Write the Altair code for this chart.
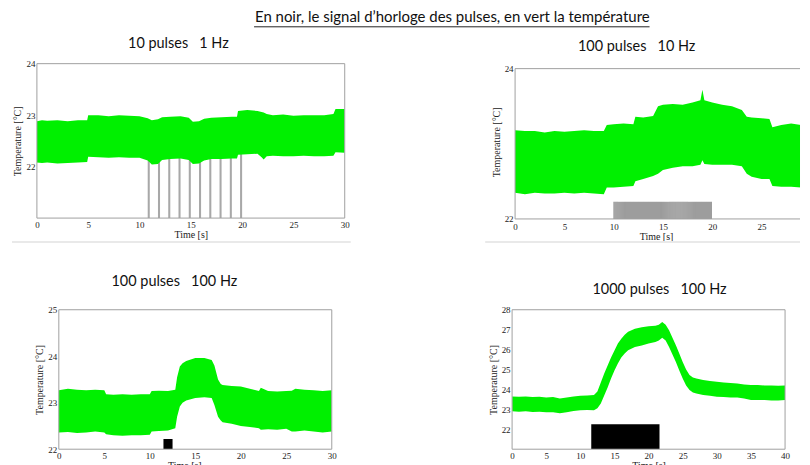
import altair as alt
import pandas as pd

GREEN = "#00f000"
SERIF = "Liberation Serif"
SANS = "Lato"
TXT = "#222222"
FRAME = "#a0a0a0"

MAIN_TITLE = "En noir, le signal d\u2019horloge des pulses, en vert la température"
TITLES = ["10 pulses\u00a0\u00a0\u00a01 Hz", "100 pulses\u00a0\u00a0\u00a010 Hz",
          "100 pulses\u00a0\u00a0\u00a0100 Hz", "1000 pulses\u00a0\u00a0\u00a0100 Hz"]

# ---------------- Panel 1 : 10 pulses, 1 Hz ----------------
p1_t = [0, 0.5, 1, 2, 3, 4, 4.9, 5.0, 6, 7, 8, 9, 10, 10.8, 11.2, 11.8, 12.2, 13, 14, 14.8,
        15.2, 15.8, 16.3, 17, 18, 19, 19.5, 19.6, 20.5, 21.5, 21.9, 22.1, 22.4, 23, 24, 25,
        26, 27, 28, 28.9, 29.1, 30]
p1_hi = [22.88, 22.9, 22.89, 22.9, 22.88, 22.9, 22.9, 23.0, 23.0, 22.98, 23.0, 22.99, 22.98,
         22.94, 22.9, 22.92, 22.96, 22.97, 22.98, 22.95, 22.87, 22.88, 22.93, 22.95, 22.96,
         22.97, 22.97, 23.08, 23.1, 23.08, 23.06, 23.05, 23.02, 23.0, 23.01, 22.99, 23.0, 23.0,
         23.0, 23.02, 23.12, 23.12]
p1_lo = [22.08, 22.07, 22.08, 22.06, 22.07, 22.08, 22.09, 22.19, 22.18, 22.17, 22.18, 22.17,
         22.17, 22.12, 22.04, 22.05, 22.13, 22.15, 22.16, 22.13, 22.05, 22.06, 22.12, 22.15,
         22.15, 22.16, 22.16, 22.23, 22.24, 22.25, 22.18, 22.14, 22.2, 22.21, 22.2, 22.2,
         22.21, 22.2, 22.2, 22.21, 22.28, 22.27]
p1_pulse_t = [10.8, 11.8, 12.8, 13.8, 14.8, 15.8, 16.8, 17.8, 18.8, 19.8]
p1_pulse_w = 0.2
p1_pulse_y = [21.0, 22.3]

# ---------------- Panel 2 : 100 pulses, 10 Hz ----------------
p2_t = [0, 1, 2, 3, 4, 5, 6, 7, 8, 9, 9.3, 10, 11, 12, 12.2, 13, 14, 14.5, 15, 16, 17, 18,
        18.8, 19, 19.2, 20, 21, 22, 23, 23.5, 24, 25, 25.8, 26.1, 27, 28, 29, 30]
p2_hi = [23.18, 23.17, 23.17, 23.15, 23.17, 23.16, 23.17, 23.18, 23.17, 23.17, 23.25, 23.26,
         23.27, 23.26, 23.36, 23.35, 23.37, 23.5, 23.52, 23.53, 23.52, 23.55, 23.58, 23.72,
         23.58, 23.55, 23.52, 23.5, 23.45, 23.36, 23.35, 23.34, 23.33, 23.22, 23.25, 23.27,
         23.25, 23.27]
p2_lo = [22.35, 22.33, 22.35, 22.34, 22.34, 22.35, 22.34, 22.35, 22.34, 22.33, 22.42, 22.42,
         22.43, 22.44, 22.5, 22.53, 22.57, 22.6, 22.65, 22.68, 22.7, 22.7, 22.72, 22.78, 22.73,
         22.72, 22.72, 22.72, 22.7, 22.6, 22.56, 22.53, 22.53, 22.44, 22.43, 22.43, 22.42,
         22.44]
p2_pulse_start, p2_pulse_count, p2_pulse_hz = 10.0, 100, 10
p2_pulse_y = [22.0, 22.23]

# ---------------- Panel 3 : 100 pulses, 100 Hz ----------------
p3_t = [0, 1, 2, 3, 4, 5, 5.2, 6, 7, 8, 9, 10, 10.2, 11, 12, 12.8, 13.0, 13.3, 13.6, 14, 15,
        16, 16.8, 17.1, 17.5, 17.8, 18, 19, 20, 21, 22, 22.2, 23, 24, 25, 25.6, 26, 27, 28,
        29, 30]
p3_hi = [23.27, 23.3, 23.28, 23.27, 23.28, 23.27, 23.18, 23.17, 23.18, 23.17, 23.18, 23.18,
         23.25, 23.26, 23.25, 23.28, 23.55, 23.78, 23.85, 23.9, 23.96, 23.96, 23.92, 23.8,
         23.5, 23.4, 23.38, 23.36, 23.35, 23.3, 23.25, 23.32, 23.25, 23.24, 23.25, 23.26,
         23.3, 23.28, 23.27, 23.25, 23.27]
p3_lo = [22.36, 22.37, 22.35, 22.36, 22.38, 22.36, 22.32, 22.3, 22.29, 22.3, 22.3, 22.31,
         22.38, 22.39, 22.4, 22.45, 22.7, 22.92, 23.0, 23.05, 23.1, 23.12, 23.1, 22.95, 22.7,
         22.62, 22.58, 22.55, 22.5, 22.48, 22.45, 22.42, 22.43, 22.42, 22.44, 22.38, 22.38,
         22.4, 22.38, 22.36, 22.38]
p3_block = [11.5, 12.5]
p3_pulse_y = [22.0, 22.22]

# ---------------- Panel 4 : 1000 pulses, 100 Hz ----------------
p4_t = [0, 1, 2, 3, 4, 5, 6, 7, 8, 9, 10, 11, 12, 12.5, 13, 13.5, 14, 14.5, 15, 15.5, 16,
        16.5, 17, 18, 19, 20, 21, 21.5, 22, 22.5, 23, 23.5, 24, 24.5, 25, 25.5, 26, 26.5, 27,
        28, 29, 30, 31, 32, 33, 34, 35, 36, 37, 38, 39, 40]
p4_hi = [23.65, 23.63, 23.65, 23.62, 23.63, 23.6, 23.62, 23.55, 23.6, 23.65, 23.68, 23.7,
         23.72, 23.9, 24.35, 24.8, 25.2, 25.6, 25.95, 26.3, 26.55, 26.75, 26.9, 27.05, 27.12,
         27.17, 27.2, 27.25, 27.38, 27.25, 26.97, 26.6, 26.22, 25.8, 25.38, 25.0, 24.72, 24.6,
         24.55, 24.47, 24.42, 24.38, 24.35, 24.32, 24.3, 24.25, 24.22, 24.22, 24.2, 24.2,
         24.18, 24.2]
p4_lo = [22.9, 22.88, 22.9, 22.87, 22.88, 22.85, 22.85, 22.8, 22.85, 22.92, 22.95, 22.97,
         22.95, 23.05, 23.3, 23.7, 24.1, 24.55, 24.95, 25.3, 25.6, 25.8, 25.97, 26.13, 26.2,
         26.3, 26.38, 26.45, 26.6, 26.45, 26.13, 25.75, 25.38, 24.95, 24.55, 24.2, 23.97,
         23.85, 23.8, 23.72, 23.68, 23.63, 23.62, 23.6, 23.6, 23.55, 23.47, 23.47, 23.47,
         23.45, 23.45, 23.47]
p4_block = [11.6, 21.6]
p4_pulse_y = [21.0, 22.25]


def pulses_df(starts, ends, yr):
    return pd.DataFrame({"a": starts, "b": ends, "y0": [yr[0]] * len(starts),
                         "y1": [yr[1]] * len(starts)})


def label(text, x, y, size):
    # slide text placed above a panel
    return alt.Chart(pd.DataFrame({"s": [text]})).mark_text(
        font=SANS, fontSize=size, color="#111111", baseline="middle").encode(
        text="s:N", x=alt.value(x), y=alt.value(y))


def panel(t, lo, hi, pdf, pcolor, view_x, view_y, frame_x, frame_y, xvals, yvals, w, h,
          title, tx, ty, yoff=0, frame_clip=False, extra=()):
    xs = alt.Scale(domain=view_x, nice=False, zero=False)
    ys = alt.Scale(domain=view_y, nice=False, zero=False)
    xa = alt.Axis(values=xvals, title="Time [s]", labelPadding=2, titlePadding=0,
                  format="d")
    ya = alt.Axis(values=yvals, title="Temperature [°C]", labelPadding=2, titlePadding=3,
                  format="d", offset=yoff)
    pulse = alt.Chart(pdf).mark_rect(color=pcolor, clip=True).encode(
        x=alt.X("a:Q", scale=xs, axis=xa), x2="b:Q",
        y=alt.Y("y0:Q", scale=ys, axis=ya), y2="y1:Q")
    band = alt.Chart(pd.DataFrame({"t": t, "lo": lo, "hi": hi})).mark_area(
        color=GREEN, clip=True, opacity=1).encode(
        x=alt.X("t:Q", scale=xs, axis=xa),
        y=alt.Y("lo:Q", scale=ys, axis=ya), y2="hi:Q")
    frame = alt.Chart(pd.DataFrame({"a": [frame_x[0]], "b": [frame_x[1]],
                                    "y0": [frame_y[0]], "y1": [frame_y[1]]})).mark_rect(
        fill="transparent", stroke=FRAME, strokeWidth=1, clip=frame_clip).encode(
        x=alt.X("a:Q", scale=xs, axis=xa), x2="b:Q",
        y=alt.Y("y0:Q", scale=ys, axis=ya), y2="y1:Q")
    layers = [pulse, band, frame, label(title, tx, ty, 14.5)] + list(extra)
    return alt.layer(*layers).properties(width=w, height=h)


def sep_rule(x1, x2, y):
    # faint horizontal separator line seen under the top panels
    return alt.Chart(pd.DataFrame({"k": [0]})).mark_rule(
        color="#e9e9e9", strokeWidth=2).encode(
        x=alt.value(x1), x2=alt.value(x2), y=alt.value(y))


# main heading (underlined), drawn as decoration above the first panel
header_txt = label(MAIN_TITLE, 417, -47, 15)
header_rule = alt.Chart(pd.DataFrame({"k": [0]})).mark_rule(color=TXT, strokeWidth=1).encode(
    x=alt.value(218), x2=alt.value(615), y=alt.value(-37))

p1_pdf = pulses_df(p1_pulse_t, [s + p1_pulse_w for s in p1_pulse_t], p1_pulse_y)
p2_starts = [p2_pulse_start + k / p2_pulse_hz for k in range(p2_pulse_count)]
p2_pdf = pulses_df(p2_starts, [s + 0.5 / p2_pulse_hz for s in p2_starts], p2_pulse_y)
p3_pdf = pulses_df([p3_block[0]], [p3_block[1]], p3_pulse_y)
p4_pdf = pulses_df([p4_block[0]], [p4_block[1]], p4_pulse_y)

c1 = panel(p1_t, p1_lo, p1_hi, p1_pdf, "#a8a8a8", [0, 30], [21, 24], [0, 30], [21, 24],
           list(range(0, 31, 5)), [22, 23, 24], 309, 155, TITLES[0], 142, -20,
           extra=[sep_rule(-25, 315, 179), header_txt, header_rule])
# right part of this panel is cut by the page edge in the original
c2 = panel(p2_t, p2_lo, p2_hi, p2_pdf, "#3a3a3a", [-0.303, 28.9], [21.985, 24.066],
           [0, 30], [22, 24], list(range(0, 26, 5)), [22, 23, 24], 289, 157, TITLES[1],
           125, -17, yoff=-3, frame_clip=True, extra=[sep_rule(-27, 289, 179)])
c3 = panel(p3_t, p3_lo, p3_hi, p3_pdf, "#000000", [-2.41, 30], [22, 25], [0, 30], [22, 25],
           list(range(0, 31, 5)), [22, 23, 24, 25], 296, 140, TITLES[2], 138, -28,
           yoff=-22)
c4 = panel(p4_t, p4_lo, p4_hi, p4_pdf, "#000000", [0, 40], [21, 28], [0, 40], [21, 28],
           list(range(0, 41, 5)), [22, 23, 24, 25, 26, 27, 28], 274, 140, TITLES[3],
           148, -20)

chart = alt.concat(c1, c2, c3, c4, columns=2, align="each", bounds="flush",
                   spacing={"row": 90, "column": 168}).properties(
    padding={"left": 2, "top": 0, "right": 0, "bottom": 0},
    background="white",
).configure_view(stroke="transparent").configure_axis(
    grid=False, ticks=False, domain=False, labelFont=SERIF, labelFontSize=9,
    labelColor=TXT, titleFont=SERIF, titleFontSize=10, titleFontWeight="normal",
    titleColor=TXT, labelFlush=False, labelOverlap=False)

chart.save("out.html", embed_options={"renderer": "svg", "actions": False})
